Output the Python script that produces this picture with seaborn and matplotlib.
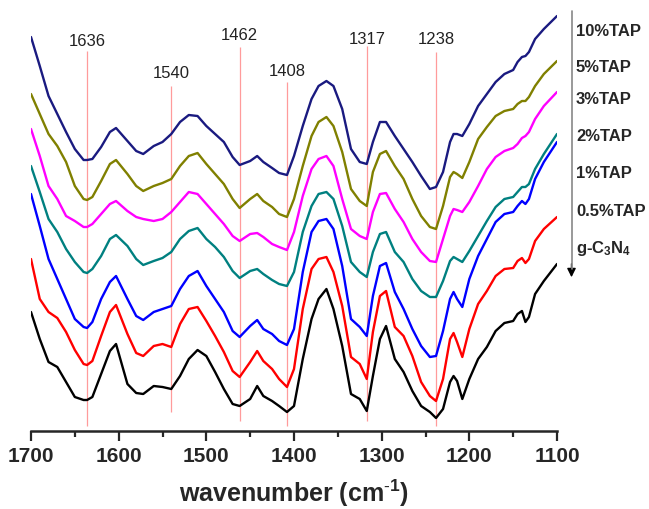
import matplotlib
matplotlib.use("Agg")
import matplotlib.pyplot as plt
from matplotlib.ticker import MultipleLocator
import seaborn as sns
import pandas as pd

# wavenumber grid (cm-1)
wavenumber = [1700, 1690, 1680, 1670, 1660, 1650, 1640, 1636, 1630, 1620,
              1610, 1603, 1590, 1580, 1572, 1560, 1550, 1540, 1530, 1520,
              1510, 1500, 1490, 1480, 1470, 1462, 1450, 1442, 1435, 1425,
              1417, 1408, 1400, 1390, 1380, 1372, 1363, 1355, 1345, 1335,
              1325, 1317, 1310, 1302, 1295, 1285, 1275, 1265, 1255, 1245,
              1238, 1230, 1222, 1218, 1214, 1208, 1200, 1190, 1180, 1170,
              1160, 1150, 1145, 1140, 1136, 1132, 1125, 1115, 1100]

# stacked spectra (a.u., offsets included)
tap_10 = [402, 373, 343, 325, 307, 290, 279, 279, 280, 292, 307, 311, 298, 288, 285, 293, 297, 305, 317, 324,
          323, 313, 305, 297, 282, 274, 278, 283, 277, 271, 266, 264, 283, 313, 340, 353, 358, 353, 330, 290,
          277, 275, 297, 317, 317, 303, 290, 277, 263, 250, 252, 267, 297, 305, 305, 303, 315, 333, 345, 357,
          365, 369, 377, 382, 383, 387, 400, 410, 423]
tap_5 = [345, 325, 305, 293, 277, 253, 240, 239, 242, 258, 275, 279, 265, 253, 248, 253, 256, 260, 273, 283,
         286, 275, 265, 255, 240, 231, 240, 245, 238, 232, 225, 222, 240, 273, 303, 317, 322, 313, 287, 250,
         238, 233, 267, 285, 288, 273, 260, 240, 223, 212, 210, 233, 262, 267, 265, 261, 277, 300, 312, 323,
         328, 330, 335, 338, 338, 342, 353, 365, 378]
tap_3 = [310, 283, 253, 240, 223, 218, 212, 212, 215, 225, 235, 238, 228, 222, 220, 218, 220, 227, 237, 247,
         245, 235, 225, 215, 203, 198, 205, 206, 202, 195, 192, 189, 207, 243, 270, 280, 283, 273, 240, 210,
         203, 200, 227, 245, 246, 230, 217, 200, 187, 178, 177, 200, 223, 230, 229, 227, 237, 253, 270, 282,
         288, 291, 295, 301, 303, 307, 320, 333, 347]
tap_2 = [273, 247, 220, 207, 190, 177, 167, 166, 170, 183, 200, 204, 193, 180, 174, 178, 181, 187, 200, 208,
         211, 200, 192, 182, 168, 161, 168, 170, 165, 159, 155, 153, 167, 207, 233, 245, 247, 240, 213, 177,
         167, 162, 187, 205, 207, 187, 177, 160, 148, 142, 142, 158, 178, 182, 180, 177, 188, 203, 218, 232,
         240, 242, 247, 252, 252, 255, 270, 285, 305]
tap_1 = [245, 213, 180, 160, 140, 120, 112, 111, 117, 140, 157, 163, 140, 123, 119, 127, 130, 133, 150, 163,
         168, 153, 140, 127, 108, 102, 113, 119, 110, 105, 98, 94, 110, 167, 207, 218, 220, 210, 173, 120,
         112, 103, 143, 173, 176, 147, 130, 110, 93, 82, 83, 108, 140, 147, 140, 132, 160, 183, 200, 217,
         225, 227, 233, 238, 235, 240, 260, 277, 297]
tap_05 = [180, 140, 127, 121, 107, 89, 75, 74, 78, 103, 127, 134, 105, 86, 83, 93, 95, 92, 115, 130,
          132, 118, 103, 87, 68, 62, 77, 88, 78, 70, 60, 52, 70, 130, 170, 180, 182, 167, 133, 82,
          75, 60, 107, 143, 148, 112, 103, 83, 57, 43, 38, 60, 100, 106, 97, 82, 110, 135, 148, 163,
          170, 171, 178, 181, 176, 180, 198, 210, 222]
gcn = [127, 100, 77, 72, 57, 42, 39, 39, 42, 65, 88, 95, 55, 46, 45, 53, 52, 50, 63, 80,
       89, 83, 67, 50, 35, 33, 40, 53, 43, 38, 33, 27, 33, 80, 120, 140, 150, 130, 93, 45,
       40, 28, 63, 100, 113, 80, 67, 48, 33, 27, 21, 30, 57, 63, 58, 40, 60, 80, 92, 108,
       116, 118, 125, 128, 117, 122, 145, 158, 175]

samples = ["10%TAP", "5%TAP", "3%TAP", "2%TAP", "1%TAP", "0.5%TAP", "g-C$_3$N$_4$"]
series = [tap_10, tap_5, tap_3, tap_2, tap_1, tap_05, gcn]
colors = ["#1a1a80", "#808000", "#ff00ff", "#008080", "#0000ff", "#ff0000", "#000000"]

peaks = [1636, 1540, 1462, 1408, 1317, 1238]

df = pd.concat([pd.DataFrame({"wavenumber": wavenumber, "intensity": s, "sample": name})
                for name, s in zip(samples, series)], ignore_index=True)

sns.set_style("ticks")
plt.rcParams["font.family"] = ["Liberation Sans", "DejaVu Sans"]
plt.rcParams["mathtext.fontset"] = "custom"
plt.rcParams["mathtext.rm"] = "Liberation Sans"
plt.rcParams["mathtext.bf"] = "Liberation Sans:bold"
plt.rcParams["mathtext.default"] = "bf"

fig = plt.figure(figsize=(6.49, 5.10), dpi=100)
ax = fig.add_axes([31 / 649, 1 - 432 / 510, 526 / 649, 422 / 510])

# peak marker lines: (wavenumber, bottom, top, label y)
marker_span = {1636: (13, 388, 398), 1540: (27, 353, 367), 1462: (18, 392, 404),
               1408: (13, 357, 368), 1317: (18, 393, 400), 1238: (13, 387, 400)}
for p in peaks:
    lo, hi, ty = marker_span[p]
    ax.vlines(p, lo, hi, color="#ff9b9b", lw=0.9, zorder=1)
    ax.text(p, ty, str(p), ha="center", va="center", fontsize=12, color="#222222")

sns.lineplot(data=df, x="wavenumber", y="intensity", hue="sample", palette=colors,
             hue_order=samples, legend=False, lw=1.7, ax=ax, zorder=2,
             solid_joinstyle="round", solid_capstyle="round")

ax.set_xlim(1700, 1100)
ax.set_ylim(8, 430)
for side in ["left", "right", "top"]:
    ax.spines[side].set_visible(False)
ax.spines["bottom"].set_linewidth(1.8)
ax.set_yticks([])
ax.set_ylabel("")
ax.xaxis.set_major_locator(MultipleLocator(100))
ax.xaxis.set_minor_locator(MultipleLocator(50))
ax.tick_params(axis="x", which="major", length=7, width=1.6, pad=4, labelsize=15)
ax.tick_params(axis="x", which="minor", length=4, width=1.6)
for lab in ax.get_xticklabels():
    lab.set_fontweight("bold")
ax.set_xlabel(r"wavenumber (cm$^{\text{-}1}$)", fontsize=18, fontweight="bold", labelpad=8)

# sample labels and arrow on the right
label_y = [31, 68, 100, 137, 174, 212, 248]
for name, py in zip(samples, label_y):
    fig.text(576 / 649, 1 - py / 510, name, ha="left", va="center",
             fontsize=12, fontweight="bold")
x_arrow = 571.5 / 649
fig.add_artist(plt.Line2D([x_arrow, x_arrow], [1 - 12 / 510, 1 - 270 / 510],
                          color="#888888", lw=1.2, transform=fig.transFigure))
ax.annotate("", xy=(x_arrow, 1 - 281 / 510), xytext=(x_arrow, 1 - 262 / 510),
            xycoords="figure fraction", textcoords="figure fraction",
            arrowprops=dict(arrowstyle="-|>", color="black", lw=1.0, mutation_scale=13))

fig.savefig("out.png", dpi=100)
